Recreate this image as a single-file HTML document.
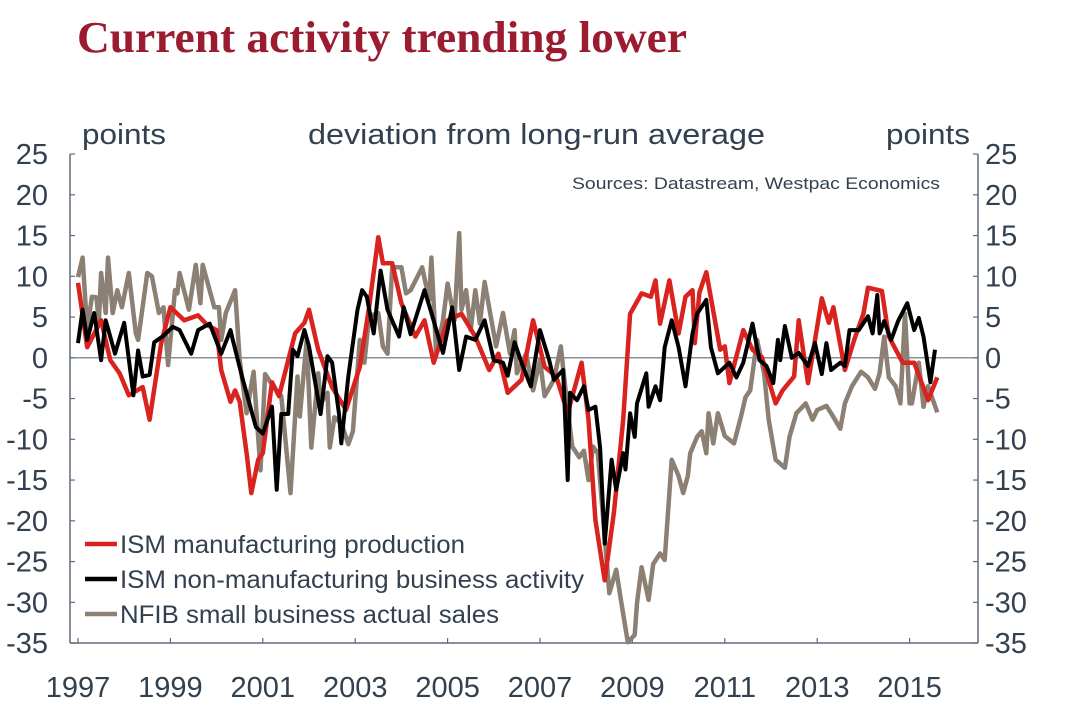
<!DOCTYPE html>
<html><head><meta charset="utf-8"><style>
body{margin:0;background:#fff;width:1073px;height:717px;overflow:hidden}
svg text{font-family:"Liberation Sans",sans-serif;fill:#33404f}
</style></head><body>
<svg id="chart" width="1073" height="717" xmlns="http://www.w3.org/2000/svg">
<text x="77" y="52" textLength="610" lengthAdjust="spacingAndGlyphs" style="font-family:'Liberation Serif',serif;font-weight:bold;font-size:44px;fill:#9b1b30">Current activity trending lower</text>
<text x="82" y="144" font-size="29" textLength="84" lengthAdjust="spacingAndGlyphs">points</text>
<text x="308" y="144" font-size="29" textLength="457" lengthAdjust="spacingAndGlyphs">deviation from long-run average</text>
<text x="886" y="144" font-size="29" textLength="84" lengthAdjust="spacingAndGlyphs">points</text>
<text x="572" y="189" font-size="17" textLength="368" lengthAdjust="spacingAndGlyphs">Sources: Datastream, Westpac Economics</text>
<g id="axes"></g>
<g id="series"></g>
<g id="legend">
<line x1="85" y1="544" x2="117" y2="544" stroke="#d9231f" stroke-width="4.5"/>
<text x="120" y="553" font-size="25" textLength="345" lengthAdjust="spacingAndGlyphs">ISM manufacturing production</text>
<line x1="85" y1="579" x2="117" y2="579" stroke="#000" stroke-width="4.5"/>
<text x="120" y="588" font-size="25" textLength="464" lengthAdjust="spacingAndGlyphs">ISM non-manufacturing business activity</text>
<line x1="85" y1="614" x2="117" y2="614" stroke="#8c7f73" stroke-width="4.5"/>
<text x="120" y="623" font-size="25" textLength="379" lengthAdjust="spacingAndGlyphs">NFIB small business actual sales</text>
</g>
</svg>
<script>
const yTicks=[25,20,15,10,5,0,-5,-10,-15,-20,-25,-30,-35];
const xTickYears=[1997,1999,2001,2003,2005,2007,2009,2011,2013,2015];
const redT=[1997.0,1997.2,1997.5,1997.7,1997.9,1998.1,1998.4,1998.55,1998.8,1999.0,1999.3,1999.6,1999.8,2000.0,2000.1,2000.3,2000.4,2000.5,2000.65,2000.75,2000.9,2001.0,2001.2,2001.35,2001.7,2001.9,2002.0,2002.2,2002.5,2002.8,2003.1,2003.3,2003.5,2003.6,2003.8,2004.0,2004.3,2004.5,2004.7,2005.0,2005.3,2005.6,2005.9,2006.1,2006.3,2006.6,2006.85,2007.1,2007.35,2007.6,2007.9,2008.05,2008.2,2008.4,2008.6,2008.8,2008.95,2009.2,2009.4,2009.5,2009.6,2009.8,2010.0,2010.15,2010.3,2010.35,2010.45,2010.6,2010.9,2011.0,2011.1,2011.4,2011.6,2011.8,2012.1,2012.25,2012.5,2012.6,2012.8,2013.1,2013.25,2013.35,2013.6,2013.8,2014.0,2014.1,2014.4,2014.55,2014.85,2015.1,2015.4,2015.6];
const redV=[9.2,1.3,4.6,-0.3,-1.9,-4.6,-3.6,-7.6,1.8,6.2,4.6,5.2,4.0,3.4,-1.5,-5.4,-4.0,-5.4,-11.7,-16.6,-12.5,-11.7,-3,-4.7,3,4.3,5.9,1,-3.6,-6.4,-1.1,6.2,14.8,11.6,11.6,6.7,2.6,4.6,-0.6,4.6,5.4,2.6,-1.5,0.5,-4.3,-2.7,4.6,-1.1,-2.3,-6.8,-0.6,-7.6,-19.9,-27.3,-19,-7.6,5.4,7.9,7.5,9.5,4.2,9.5,3,7.5,8.3,1.8,8,10.5,1,1.4,-3.1,3.4,1,0.1,-5.6,-4,-2.3,4.6,-3.1,7.3,4.3,6.2,-1.5,2.2,5.4,8.6,8.2,2.6,-0.6,-0.6,-5.2,-2.4];
const blackT=[1997.0,1997.1,1997.2,1997.35,1997.5,1997.6,1997.8,1998.0,1998.2,1998.3,1998.4,1998.55,1998.65,1998.85,1999.05,1999.2,1999.45,1999.6,1999.85,2000.1,2000.3,2000.35,2000.55,2000.85,2001.0,2001.2,2001.3,2001.4,2001.55,2001.65,2001.75,2001.9,2002.0,2002.25,2002.4,2002.5,2002.65,2002.7,2002.85,2003.05,2003.15,2003.25,2003.4,2003.55,2003.7,2003.95,2004.05,2004.2,2004.5,2004.65,2004.9,2005.1,2005.25,2005.4,2005.6,2005.8,2006.0,2006.2,2006.3,2006.45,2006.6,2006.8,2007.0,2007.2,2007.3,2007.5,2007.6,2007.65,2007.8,2007.95,2008.05,2008.2,2008.3,2008.4,2008.55,2008.65,2008.8,2008.85,2008.95,2009.05,2009.1,2009.3,2009.35,2009.5,2009.6,2009.7,2009.85,2010.0,2010.15,2010.3,2010.4,2010.6,2010.7,2010.85,2011.1,2011.25,2011.4,2011.6,2011.75,2011.9,2012.05,2012.15,2012.2,2012.3,2012.45,2012.6,2012.8,2012.95,2013.1,2013.2,2013.3,2013.5,2013.6,2013.7,2013.9,2014.1,2014.2,2014.3,2014.35,2014.45,2014.6,2014.75,2014.95,2015.1,2015.2,2015.3,2015.45,2015.55];
const blackV=[1.8,5.9,2.2,5.5,-0.3,4.6,0.5,4.3,-4.6,0.9,-2.3,-2.1,1.9,2.7,3.8,3.4,0.5,3.4,4.2,0.5,3.4,2.2,-2.3,-8.5,-9.3,-6,-16.2,-6.9,-6.9,1,0.2,3.4,1.4,-6.9,0.2,-0.6,-6.9,-10.5,-2.3,5.9,8.3,7.5,3,10.7,5.9,2.6,6.2,2.9,8.3,5.5,0.6,6.2,-1.5,2.6,2.2,4.6,-0.3,-0.6,-2.2,1.9,-0.6,-3.5,3.4,-0.3,-2.7,-1.5,-15,-4.3,-5.2,-3.5,-6.4,-6,-11,-22.8,-12.5,-16.2,-11.7,-13.7,-6.8,-9.7,-5.6,-1.9,-6,-3.5,-5.2,1.3,4.6,1.3,-3.5,3,5.4,7.1,1.3,-1.9,-0.6,-2.4,-0.6,4.2,-0.3,-1,-3.1,2.2,-0.3,3.9,0,0.6,-1,1.8,-2,1.8,-1.5,-0.6,-1,3.4,3.4,5.1,3,7.7,3,4.5,2.2,4.5,6.7,3.4,4.9,2.6,-3,1];
const greyT=[1997.0,1997.1,1997.2,1997.3,1997.4,1997.45,1997.5,1997.6,1997.65,1997.75,1997.85,1997.95,1998.1,1998.25,1998.3,1998.5,1998.6,1998.75,1998.85,1998.95,1999.1,1999.15,1999.2,1999.4,1999.55,1999.65,1999.7,1999.95,2000.05,2000.1,2000.2,2000.4,2000.5,2000.65,2000.8,2000.95,2001.05,2001.25,2001.4,2001.6,2001.75,2001.8,2001.95,2002.05,2002.2,2002.25,2002.4,2002.45,2002.55,2002.7,2002.85,2002.95,2003.1,2003.2,2003.3,2003.5,2003.6,2003.7,2003.8,2004.0,2004.1,2004.2,2004.45,2004.6,2004.65,2004.75,2004.9,2005.0,2005.15,2005.25,2005.3,2005.4,2005.5,2005.6,2005.7,2005.8,2006.05,2006.2,2006.35,2006.45,2006.5,2006.7,2006.85,2007.0,2007.1,2007.3,2007.45,2007.6,2007.7,2007.85,2007.95,2008.05,2008.15,2008.25,2008.4,2008.5,2008.65,2008.75,2008.9,2009.05,2009.1,2009.2,2009.35,2009.45,2009.6,2009.7,2009.85,2010.0,2010.1,2010.2,2010.25,2010.4,2010.5,2010.6,2010.65,2010.75,2010.85,2011.0,2011.2,2011.35,2011.45,2011.55,2011.7,2011.85,2011.95,2012.1,2012.3,2012.4,2012.55,2012.75,2012.9,2013.0,2013.2,2013.3,2013.5,2013.6,2013.75,2013.95,2014.1,2014.25,2014.35,2014.45,2014.55,2014.7,2014.8,2014.9,2015.0,2015.05,2015.2,2015.3,2015.4,2015.6];
const greyV=[9.9,12.3,3.4,7.5,7.4,4.3,10.4,5.5,12.3,5.5,8.3,6.2,10.4,3,2.2,10.4,10,5.5,6.2,-0.9,8.3,7.9,10.4,5.9,11.4,6.7,11.4,6.2,6.2,2.2,5.5,8.3,-0.3,-6.8,-1.7,-13.8,-2,-3.7,-4.7,-16.6,-2.3,-7.2,2.2,-11,-1.9,-5.6,-4.3,-11,-7.3,-8,-10.6,-9,2.2,-0.6,5.1,5.5,1.4,0.5,11.1,11.1,7.9,8.3,11.1,7.1,12.3,0.6,4.6,9.1,4.6,15.3,5.9,8.3,3.4,8.3,4.2,9.3,1.4,5.5,0.5,3.4,-1.9,0.5,-4,-0.3,-4.7,-2.7,1.4,-6.4,-10.9,-12.2,-11.4,-15,-10.9,-11.7,-22,-28.9,-26,-29.7,-34.9,-34,-30.1,-25.7,-29.7,-25.3,-24,-24.8,-12.5,-14.5,-16.6,-14.5,-11.7,-9.7,-9,-11.7,-6.8,-10.5,-6.8,-9.6,-10.5,-7.2,-4.8,-4,2.2,-1.9,-7.6,-12.5,-13.5,-9.7,-6.8,-5.6,-7.6,-6.4,-5.9,-6.8,-8.7,-5.6,-3.5,-1.7,-2.4,-3.8,-1.9,2.6,-2.4,-3.5,-5.6,5.4,-5.6,-5.6,-0.6,-6,-3.5,-6.7];

const NS='http://www.w3.org/2000/svg';
const X0=78,PXY=46.2,Y0=357.8,PXV=8.15,L=70,R=978,T=154,B=643;
function xs(t){return X0+(t-1997)*PXY;}
function ys(v){return Y0-v*PXV;}
function mk(tag,attrs,parent){const e=document.createElementNS(NS,tag);for(const k in attrs)e.setAttribute(k,attrs[k]);parent.appendChild(e);return e;}
const axes=document.getElementById('axes');
const ac='#5f6b78';
let e;
e=mk('line',{x1:L,y1:T,x2:L,y2:B,stroke:ac,'stroke-width':1.5},axes);


e=mk('line',{x1:R,y1:T,x2:R,y2:B,stroke:ac,'stroke-width':1.5},axes);


e=mk('line',{x1:L,y1:B,x2:R,y2:B,stroke:ac,'stroke-width':1.5},axes);


e=mk('line',{x1:L,y1:ys(0),x2:R,y2:ys(0),stroke:ac,'stroke-width':1.2},axes);


yTicks.forEach(v=>{
  const y=ys(v);
  mk('line',{x1:L,y1:y,x2:L+5,y2:y,stroke:ac,'stroke-width':1.2},axes);
  mk('line',{x1:R-5,y1:y,x2:R,y2:y,stroke:ac,'stroke-width':1.2},axes);
  let t=mk('text',{x:48,y:y+10,'font-size':29,'text-anchor':'end'},axes);t.textContent=v;
  
  
  t=mk('text',{x:985,y:y+10,'font-size':29},axes);t.textContent=v;
  
  
});
xTickYears.forEach(yr=>{
  const x=xs(yr);
  mk('line',{x1:x,y1:B-5,x2:x,y2:B,stroke:ac,'stroke-width':1.2},axes);
  const t=mk('text',{x:x,y:697,'font-size':29,'text-anchor':'middle'},axes);t.textContent=yr;
  
  
});
const sg=document.getElementById('series');
function draw(T,V,color,w,name){
  const d=T.map((t,i)=>(i?'L':'M')+xs(t).toFixed(1)+','+ys(V[i]).toFixed(1)).join(' ');
  const p=mk('path',{d:d,fill:'none',stroke:color,'stroke-width':w,'stroke-linejoin':'round'},sg);
  
  
}
draw(greyT,greyV,'#8c7f73',4.5,'nfib-sales-line');
draw(redT,redV,'#d9231f',4.5,'ism-manufacturing-line');
draw(blackT,blackV,'#000',4,'ism-non-manufacturing-line');
</script>
</body></html>
